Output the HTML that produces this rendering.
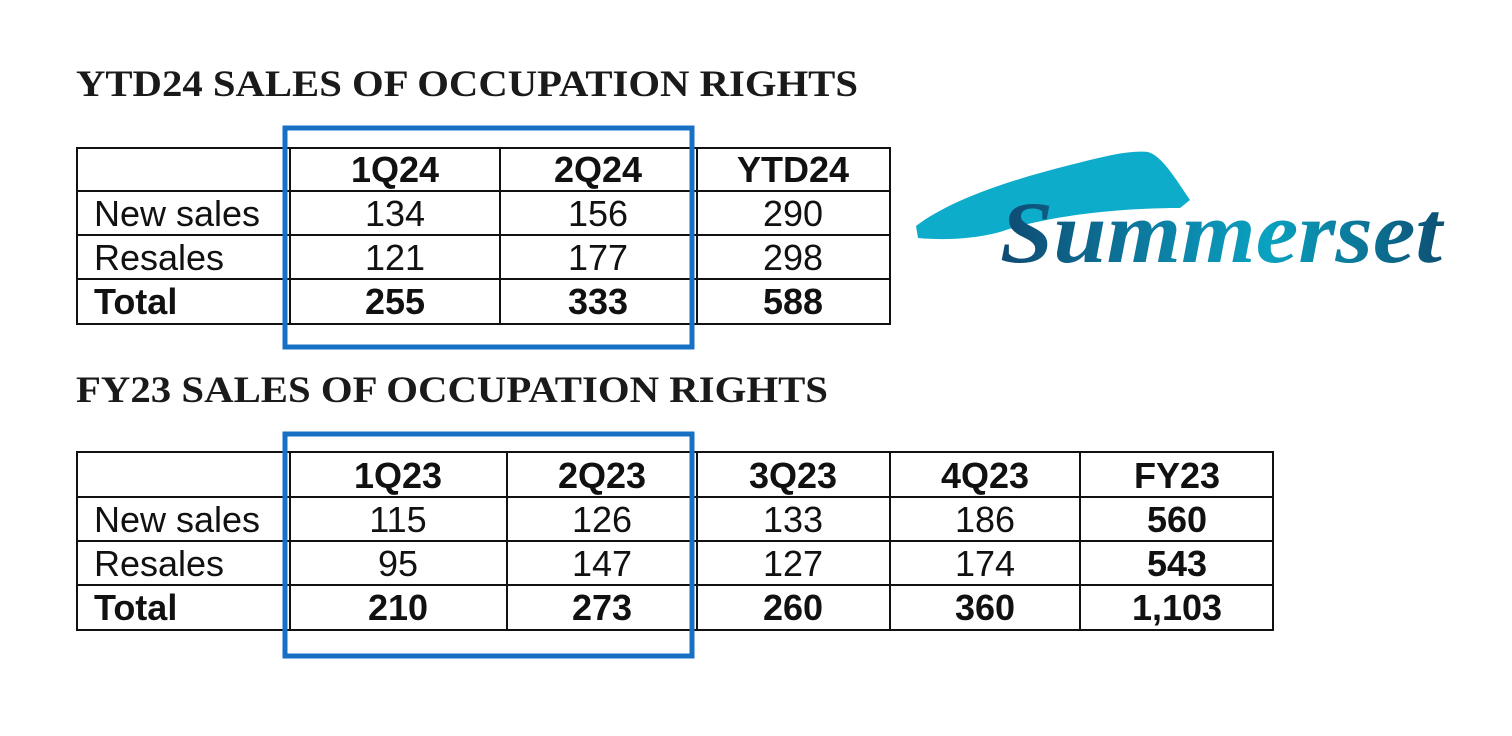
<!DOCTYPE html>
<html><head><style>
html,body{margin:0;padding:0;background:#fff;}
svg{display:block;}
.t{font-family:"Liberation Serif",serif;font-weight:bold;fill:#1a1a1a;}
.c{font-family:"Liberation Sans",Arial,sans-serif;font-size:36px;fill:#111;text-anchor:middle;}
.l{font-family:"Liberation Sans",Arial,sans-serif;font-size:36px;fill:#111;}
.b{font-weight:bold;}
</style></head><body>
<svg width="1512" height="736" viewBox="0 0 1512 736" xmlns="http://www.w3.org/2000/svg">
<defs>
<linearGradient id="g" x1="0" x2="1" y1="0" y2="0">
<stop offset="0" stop-color="#0f4a72"/><stop offset="0.45" stop-color="#0c8db0"/><stop offset="0.6" stop-color="#0aa2c0"/><stop offset="1" stop-color="#0d4f73"/>
</linearGradient>
</defs>
<text class="t" x="76" y="96" font-size="37" textLength="782" lengthAdjust="spacingAndGlyphs">YTD24 SALES OF OCCUPATION RIGHTS</text>
<text class="t" x="76" y="402" font-size="37" textLength="752" lengthAdjust="spacingAndGlyphs">FY23 SALES OF OCCUPATION RIGHTS</text>

<!-- Table 1 -->
<g stroke="#111" stroke-width="2" fill="none">
<rect x="77" y="148" width="813" height="176"/>
<line x1="77" y1="191" x2="890" y2="191"/><line x1="77" y1="235" x2="890" y2="235"/><line x1="77" y1="279" x2="890" y2="279"/>
<line x1="290" y1="148" x2="290" y2="324"/><line x1="500" y1="148" x2="500" y2="324"/><line x1="697" y1="148" x2="697" y2="324"/>
</g>
<text class="c b" x="395" y="182">1Q24</text><text class="c b" x="598" y="182">2Q24</text><text class="c b" x="793" y="182">YTD24</text>
<text class="l" x="94" y="226">New sales</text><text class="c" x="395" y="226">134</text><text class="c" x="598" y="226">156</text><text class="c" x="793" y="226">290</text>
<text class="l" x="94" y="270">Resales</text><text class="c" x="395" y="270">121</text><text class="c" x="598" y="270">177</text><text class="c" x="793" y="270">298</text>
<text class="l b" x="94" y="314">Total</text><text class="c b" x="395" y="314">255</text><text class="c b" x="598" y="314">333</text><text class="c b" x="793" y="314">588</text>
<rect x="285" y="128" width="407" height="219" fill="none" stroke="#1670c4" stroke-width="5"/>

<!-- Table 2 -->
<g stroke="#111" stroke-width="2" fill="none">
<rect x="77" y="452" width="1196" height="178"/>
<line x1="77" y1="497" x2="1273" y2="497"/><line x1="77" y1="541" x2="1273" y2="541"/><line x1="77" y1="585" x2="1273" y2="585"/>
<line x1="290" y1="452" x2="290" y2="630"/><line x1="507" y1="452" x2="507" y2="630"/><line x1="697" y1="452" x2="697" y2="630"/><line x1="890" y1="452" x2="890" y2="630"/><line x1="1080" y1="452" x2="1080" y2="630"/>
</g>
<text class="c b" x="398" y="488">1Q23</text><text class="c b" x="602" y="488">2Q23</text><text class="c b" x="793" y="488">3Q23</text><text class="c b" x="985" y="488">4Q23</text><text class="c b" x="1177" y="488">FY23</text>
<text class="l" x="94" y="532">New sales</text><text class="c" x="398" y="532">115</text><text class="c" x="602" y="532">126</text><text class="c" x="793" y="532">133</text><text class="c" x="985" y="532">186</text><text class="c b" x="1177" y="532">560</text>
<text class="l" x="94" y="576">Resales</text><text class="c" x="398" y="576">95</text><text class="c" x="602" y="576">147</text><text class="c" x="793" y="576">127</text><text class="c" x="985" y="576">174</text><text class="c b" x="1177" y="576">543</text>
<text class="l b" x="94" y="620">Total</text><text class="c b" x="398" y="620">210</text><text class="c b" x="602" y="620">273</text><text class="c b" x="793" y="620">260</text><text class="c b" x="985" y="620">360</text><text class="c b" x="1177" y="620">1,103</text>
<rect x="285" y="434" width="407" height="222" fill="none" stroke="#1670c4" stroke-width="5"/>

<!-- Logo -->
<path d="M916 226 C950 200 1010 180 1070 165 C1105 156 1130 150 1148 152 C1162 156 1175 178 1190 200 L1180 208 C1120 208 1050 215 1000 232 C970 240 940 240 918 238 Z" fill="#0cacca"/>
<text x="1000" y="262" font-family="Liberation Serif,serif" font-style="italic" font-weight="bold" font-size="88" fill="url(#g)" textLength="442" lengthAdjust="spacingAndGlyphs">Summerset</text>
</svg>
</body></html>
